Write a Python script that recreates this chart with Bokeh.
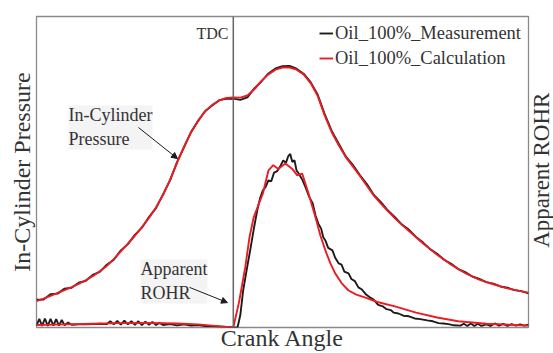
import math
from bokeh.plotting import figure
from bokeh.layouts import row
from bokeh.models import (Range1d, FixedTicker, Span, Label, Arrow, NormalHead, Legend,
                          LegendItem)
from bokeh.embed import file_html
from bokeh.resources import INLINE

# ---------------- data (arbitrary units, crank angle in degrees) ----------------
ca_p_calc = [-28, -27, -26, -25, -24, -23, -22, -21, -20, -19, -18, -17, -16, -15, -14, -13, -12,
             -11, -10, -9, -8, -7, -6, -5, -4, -3, -2, -1, 0, 1, 2, 3, 4, 5, 6, 7, 8, 9, 10,
             11, 12, 13, 14, 15, 16, 17, 18, 19, 20, 21, 22, 23, 24, 25, 26, 27, 28, 29, 30,
             31, 32, 33, 34, 35, 36, 37, 38, 39, 40, 41, 42]
p_calc = [8.5, 9.3, 10.2, 11.1, 12.0, 13.0, 14.0, 15.2, 16.5, 18.1, 19.8, 22.0, 24.5, 27.0, 29.5,
          32.3, 35.2, 38.6, 42.6, 47.5, 53.0, 58.2, 62.8, 66.6, 69.5, 71.6, 73.0, 73.8, 74.0,
          73.9, 74.6, 76.6, 79.3, 81.4, 82.9, 83.6, 83.6, 82.9, 81.4, 78.6, 74.5, 68.2, 62.8,
          58.6, 54.8, 51.8, 48.8, 45.6, 42.4, 39.8, 37.4, 35.1, 33.0, 31.0, 29.0, 27.0, 25.2,
          23.4, 21.8, 20.2, 18.8, 17.5, 16.4, 15.4, 14.6, 13.9, 13.2, 12.6, 12.1, 11.6, 11.2]

ca_p_meas = ca_p_calc
p_meas = [8.9, 9.0, 10.7, 10.9, 12.5, 12.8, 14.4, 15.0, 16.9, 17.9, 20.2, 21.8, 24.8, 26.8, 29.8,
          32.1, 35.5, 38.4, 42.8, 47.3, 53.2, 58.0, 62.9, 66.4, 69.6, 71.4, 73.1, 73.5, 73.6,
          73.2, 74.0, 76.9, 79.1, 81.7, 83.3, 84.0, 84.1, 83.2, 81.6, 78.9, 74.9, 68.6, 63.2,
          59.1, 55.0, 52.3, 49.0, 46.1, 42.6, 40.3, 37.6, 35.5, 33.1, 31.4, 29.1, 27.3, 25.2,
          23.7, 21.8, 20.5, 18.8, 17.8, 16.4, 15.6, 14.6, 14.1, 13.2, 12.8, 12.0, 11.7, 11.0]

ca_r_calc = [-28, -24, -20, -16, -12, -8, -5, -3, -1, 0, 0.8, 1.7, 2.3, 2.9, 3.5, 4.2, 5.0, 5.7,
             6.4, 7.4, 8.4, 9.1, 9.8, 10.7, 11.7, 12.4, 13.1, 13.8, 14.5, 15.4, 16.4, 17.5, 18.8,
             20.5, 23.0, 26.0, 29.0, 32.0, 36.0, 42.0]
r_calc = [0.8, 1.0, 1.2, 1.4, 1.5, 1.3, 1.0, 0.6, 0.2, 0.0, 8.0, 19.3, 29.0, 35.4, 39.0, 43.0,
          50.5, 52.2, 51.0, 52.7, 51.0, 48.9, 49.5, 43.1, 35.4, 29.5, 24.8, 20.7, 17.4, 14.3,
          11.9, 10.6, 9.6, 8.2, 6.8, 4.8, 3.2, 2.0, 1.2, 0.6]

ca_r_meas = [-28, -27.6, -27.2, -26.8, -26.4, -26.0, -25.6, -25.2, -24.8, -24.4, -24.0, -23.5,
             -23.0, -22.0, -21.0, -20.0, -19.0, -18.0, -17.5, -17.0, -16.5, -16.0, -15.5, -15.0,
             -14.5, -14.0, -13.5, -13.0, -12.5, -12.0, -11.5, -11.0, -10.5, -10.0, -9.0, -8.0,
             -7.0, -6.0, -5.0, -4.0, -3.0, -2.0, -1.0, 0.0, 0.6, 1.0, 1.4, 1.9, 2.4, 2.9, 3.4,
             3.8, 4.2, 4.6, 5.0, 5.4, 5.8, 6.2, 6.6, 7.1, 7.5, 7.8, 8.1, 8.4, 8.7, 9.0, 9.3,
             9.8, 10.3, 10.8, 11.3, 11.7, 12.1, 12.5, 12.8, 13.1, 13.5, 14.1, 14.5, 15.0, 15.4,
             15.8, 16.4, 16.8, 17.3, 17.8, 18.3, 18.9, 19.5, 20.0, 20.6, 21.2, 21.8, 22.4, 22.8,
             23.5, 24.2, 25.0, 25.8, 26.6, 27.6, 28.4, 29.2, 29.9, 30.6, 31.4, 32.3, 32.8, 33.3,
             33.8, 34.3, 34.8, 35.3, 36.0, 36.6, 37.2, 37.8, 38.4, 39.0, 39.6, 40.2, 40.8, 41.4,
             42.0]
r_meas = [0.6, 2.8, 0.5, 2.9, 0.5, 2.8, 0.6, 2.7, 0.6, 2.4, 0.7, 1.6, 0.9, 1.0, 1.0, 1.1, 1.2,
          1.1, 2.0, 1.0, 2.1, 0.9, 2.2, 1.0, 2.0, 0.9, 2.0, 0.8, 1.9, 0.9, 1.8, 0.8, 1.5, 0.8,
          1.1, 0.7, 1.0, 0.6, 0.8, 0.5, 0.5, 0.3, 0.2, 0.0, 0.0, 4.0, 11.9, 18.5, 24.8, 31.5,
          37.6, 41.5, 44.0, 45.2, 47.3, 47.0, 49.8, 50.2, 51.5, 53.7, 53.0, 55.0, 55.8, 53.2,
          53.8, 50.5, 49.5, 47.6, 45.0, 42.0, 39.9, 36.0, 33.4, 31.8, 29.0, 28.0, 25.6, 24.8,
          22.4, 20.6, 20.2, 18.0, 17.4, 15.6, 14.9, 12.9, 12.2, 10.6, 9.6, 8.9, 7.3, 6.9, 5.9,
          5.6, 4.8, 4.5, 3.8, 3.6, 2.9, 2.7, 2.3, 2.0, 1.4, 1.3, 1.1, 0.7, 0.6, 1.2, 0.5, 1.3,
          0.5, 1.2, 0.5, 1.0, 0.5, 1.3, 0.6, 1.2, 0.5, 1.1, 0.6, 1.0, 0.6, 0.9]

series_names = ["Oil_100%_Measurement", "Oil_100%_Calculation"]

FONT = "Liberation Serif"
TXT = "#333333"
BLACK = "#1c1c1c"
RED = "#ec1c24"

p = figure(width=530, height=353, output_backend="svg", toolbar_location=None,
           x_range=Range1d(-28, 42), y_range=Range1d(0, 100),
           min_border_left=36, min_border_right=2, min_border_top=16, min_border_bottom=26)
p.extra_y_ranges = {"rohr": Range1d(0, 100)}
p.grid.visible = False
p.outline_line_color = "#8a8a8a"
p.outline_line_width = 1.3
p.background_fill_color = "white"
p.border_fill_color = "white"

for ax in (p.xaxis[0], p.yaxis[0]):
    ax.ticker = FixedTicker(ticks=[])
    ax.axis_line_color = None
    ax.major_tick_line_color = None
    ax.minor_tick_line_color = None
    ax.major_tick_out = 0
    ax.major_tick_in = 0
    ax.major_label_text_font_size = "0px"
    ax.axis_label_text_font = FONT
    ax.axis_label_text_font_style = "normal"
    ax.axis_label_text_font_size = "24px"
    ax.axis_label_text_color = TXT

p.xaxis.axis_label = "Crank Angle"
p.xaxis.axis_label_standoff = -3
p.yaxis.axis_label = "In-Cylinder Pressure"
p.yaxis.axis_label_standoff = 2

# TDC marker
p.add_layout(Span(location=0, dimension="height", line_color="#666666", line_width=1.5))

lw = 1.9
pm = p.line(ca_p_meas, p_meas, line_color=BLACK, line_width=lw)
p.line(ca_r_meas, r_meas, line_color=BLACK, line_width=lw, y_range_name="rohr")
pc = p.line(ca_p_calc, p_calc, line_color=RED, line_width=lw)
p.line(ca_r_calc, r_calc, line_color=RED, line_width=lw, y_range_name="rohr")

legend = Legend(items=[LegendItem(label=series_names[0], renderers=[pm]),
                       LegendItem(label=series_names[1], renderers=[pc])],
                location="top_right", border_line_alpha=0, background_fill_alpha=0,
                label_text_font=FONT, label_text_font_size="18.5px", label_text_color=TXT,
                glyph_width=14, glyph_height=24, label_height=24, label_width=188,
                label_standoff=2, spacing=1, padding=5, margin=0)
p.add_layout(legend)

# texts
p.add_layout(Label(x=-0.68, y=94.5, text="TDC", text_font=FONT, text_font_size="16px",
                   text_color=TXT, text_align="right", text_baseline="alphabetic"))
p.add_layout(Label(x=-23.45, y=71.4, text="In-Cylinder\nPressure", text_font=FONT,
                   text_font_size="18px", text_color=TXT, text_align="left",
                   text_baseline="top", background_fill_color="#f4f4f4",
                   background_fill_alpha=1.0))
p.add_layout(Label(x=-13.2, y=21.9, text="Apparent\nROHR", text_font=FONT,
                   text_font_size="18px", text_color=TXT, text_align="left",
                   text_baseline="top", background_fill_color="#f4f4f4",
                   background_fill_alpha=1.0))

p.add_layout(Arrow(x_start=-13.49, y_start=64.3, x_end=-7.94, y_end=54.3, line_color=BLACK,
                   line_width=1, end=NormalHead(size=6, fill_color=BLACK, line_color=BLACK)))
p.add_layout(Arrow(x_start=-6.23, y_start=12.9, x_end=-0.83, y_end=8.0, line_color=BLACK,
                   line_width=1, end=NormalHead(size=6, fill_color=BLACK, line_color=BLACK)))

# narrow strip on the right that carries the secondary-axis title (reads bottom to top)
side = figure(width=23, height=353, output_backend="svg", toolbar_location=None,
              x_range=Range1d(0, 23), y_range=Range1d(0, 353),
              x_axis_location=None, y_axis_location=None, min_border=0)
side.grid.visible = False
side.outline_line_color = None
side.background_fill_color = "white"
side.border_fill_color = "white"
side.add_layout(Label(x=11, y=178.5, text="Apparent ROHR", text_font=FONT,
                      text_font_size="23px", text_color=TXT, text_align="center",
                      text_baseline="alphabetic", angle=math.pi / 2))

layout = row(p, side, spacing=0)
open("out.html", "w").write(file_html(layout, INLINE))
